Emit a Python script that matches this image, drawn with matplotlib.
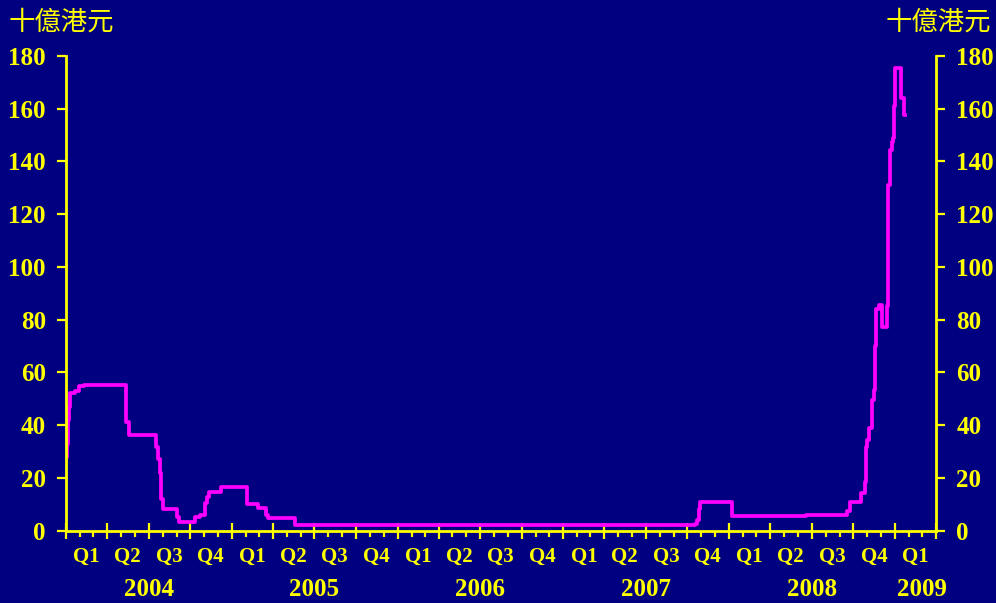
import numpy as np
import matplotlib.pyplot as plt
import matplotlib.dates as mdates
import matplotlib.transforms as mtransforms

# colours of the original slide
NAVY = '#000080'
YELLOW = '#FFFF00'
MAGENTA = '#FF00FF'

# aggregate balance, HK$ bn (change points, step series)
dates = ['2004-01-01', '2004-01-03', '2004-01-05', '2004-01-07', '2004-01-10',
         '2004-01-20', '2004-01-29', '2004-02-10', '2004-05-13', '2004-05-19',
         '2004-07-17', '2004-07-22', '2004-07-26', '2004-07-29', '2004-08-02',
         '2004-09-01', '2004-09-05', '2004-10-11', '2004-10-22', '2004-11-02',
         '2004-11-07', '2004-11-10', '2004-12-07', '2005-02-02', '2005-02-26',
         '2005-03-17', '2005-03-20', '2005-05-19', '2005-09-01', '2006-03-01',
         '2006-09-01', '2007-03-01', '2007-10-19', '2007-10-23', '2007-10-26',
         '2007-10-30', '2008-01-07', '2008-06-19', '2008-09-16', '2008-09-24',
         '2008-10-17', '2008-10-27', '2008-10-29', '2008-11-01', '2008-11-05',
         '2008-11-11', '2008-11-15', '2008-11-18', '2008-11-20', '2008-11-27',
         '2008-12-03', '2008-12-14', '2008-12-17', '2008-12-21', '2008-12-25',
         '2008-12-28', '2008-12-30', '2009-01-01', '2009-01-14', '2009-01-20',
         '2009-01-22']
values = [28, 33, 42, 47, 52,
          53, 54.8, 55.3, 41, 36.3,
          31.5, 27, 22, 11.8, 8.1,
          5.2, 3.3, 5.0, 6.0, 10.4,
          12.8, 14.7, 16.5, 10.0, 8.5,
          5.8, 4.6, 1.9, 2.0, 2.0,
          2.1, 2.1, 2.5, 4.0, 8.0,
          11.0, 5.5, 5.8, 7.5, 10.8,
          14.3, 18.5, 31.8, 34.3, 38.8,
          49.5, 53.3, 70, 84, 85.5,
          77.3, 85, 131, 144.5, 147.5,
          149, 161, 175.5, 164, 157.5,
          157.5]

quarter_labels = ['Q1', 'Q2', 'Q3', 'Q4']
years = [2004, 2005, 2006, 2007, 2008, 2009]
y_ticks = list(range(0, 181, 20))
unit = '十億港元'

x = np.array(dates, dtype='datetime64[D]')

fig = plt.figure(figsize=(9.96, 6.03), dpi=100, facecolor=NAVY)
ax = fig.add_axes([66 / 996, 72.5 / 603, 870 / 996, 474.5 / 603], facecolor=NAVY)

ax.plot(x, values, drawstyle='steps-post', color=MAGENTA, lw=2.7)

ax.set_xlim(np.datetime64('2004-01-01'), np.datetime64('2009-04-01'))
ax.set_ylim(0, 180)
ax.set_yticks(y_ticks)

for s in ['left', 'right', 'bottom']:
    ax.spines[s].set_color(YELLOW)
    ax.spines[s].set_linewidth(2)
ax.spines['top'].set_visible(False)

# x axis: quarters (major) and months (minor), labels written by hand below
ax.xaxis.set_major_locator(mdates.MonthLocator(bymonth=[1, 4, 7, 10]))
ax.xaxis.set_minor_locator(mdates.MonthLocator())
ax.tick_params(axis='x', which='major', direction='inout', length=12, width=1.6,
               color=YELLOW, labelbottom=False)
ax.tick_params(axis='x', which='minor', direction='out', length=4.5, width=1.6,
               color=YELLOW)

ax.tick_params(axis='y', direction='out', length=6.5, width=1.6, color=YELLOW,
               labelcolor=YELLOW, left=True, right=True,
               labelleft=True, labelright=True, pad=8)
for lab in ax.get_yticklabels():
    lab.set_fontfamily('Liberation Serif')
    lab.set_fontweight('bold')
    lab.set_fontsize(18)

trans = mtransforms.blended_transform_factory(ax.transData, fig.transFigure)
serif = dict(family='Liberation Serif', weight='bold', color=YELLOW,
             ha='center', va='center', transform=trans)

for yr in years:
    for qi, ql in enumerate(quarter_labels):
        start = np.datetime64('%d-%02d-01' % (yr, qi * 3 + 1))
        if start >= np.datetime64('2009-04-01'):
            break
        ax.text(start + np.timedelta64(45, 'D'), 1 - 557 / 603, ql, fontsize=15, **serif)
    if yr < 2009:
        xpos = np.datetime64('%d-07-01' % yr)
    else:
        xpos = np.datetime64('%d-03-01' % yr)
    ax.text(xpos, 1 - 590 / 603, str(yr), fontsize=18, **serif)

cjk = dict(family=['Noto Sans CJK TC', 'DejaVu Sans'], color=YELLOW, fontsize=19, va='center')
fig.text(9 / 996, 1 - 22 / 603, unit, ha='left', **cjk)
fig.text(991 / 996, 1 - 22 / 603, unit, ha='right', **cjk)

fig.savefig('out.png', dpi=100, facecolor=NAVY)
